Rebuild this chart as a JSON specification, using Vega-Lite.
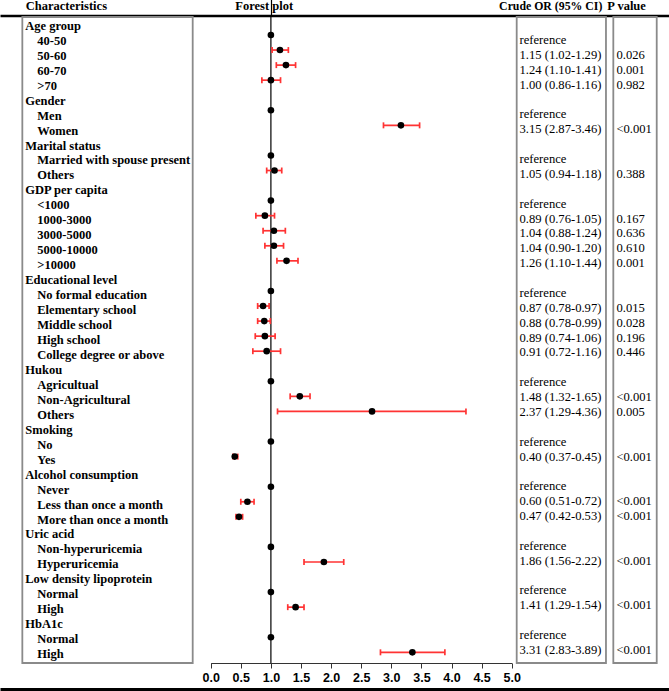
{
  "$schema": "https://vega.github.io/schema/vega-lite/v6.json",
  "width": 669,
  "height": 646,
  "autosize": "none",
  "padding": {"left": 0, "right": 0, "top": 17, "bottom": 28},
  "background": "white",
  "config": {"view": {"stroke": null}, "font": "Liberation Serif"},
  "data": {"values": [
    {"k": "r01", "t": "Age group", "lv": 0, "e": null, "lo": null, "hi": null, "ci": "", "p": ""},
    {"k": "r02", "t": "40-50", "lv": 1, "e": 1.0, "lo": null, "hi": null, "ci": "reference", "p": ""},
    {"k": "r03", "t": "50-60", "lv": 1, "e": 1.15, "lo": 1.02, "hi": 1.29, "ci": "1.15 (1.02-1.29)", "p": "0.026"},
    {"k": "r04", "t": "60-70", "lv": 1, "e": 1.25, "lo": 1.09, "hi": 1.41, "ci": "1.24 (1.10-1.41)", "p": "0.001"},
    {"k": "r05", "t": ">70", "lv": 1, "e": 1.0, "lo": 0.85, "hi": 1.16, "ci": "1.00 (0.86-1.16)", "p": "0.982"},
    {"k": "r06", "t": "Gender", "lv": 0, "e": null, "lo": null, "hi": null, "ci": "", "p": ""},
    {"k": "r07", "t": "Men", "lv": 1, "e": 1.0, "lo": null, "hi": null, "ci": "reference", "p": ""},
    {"k": "r08", "t": "Women", "lv": 1, "e": 3.16, "lo": 2.87, "hi": 3.47, "ci": "3.15 (2.87-3.46)", "p": "<0.001"},
    {"k": "r09", "t": "Marital status", "lv": 0, "e": null, "lo": null, "hi": null, "ci": "", "p": ""},
    {"k": "r10", "t": "Married with spouse present", "lv": 1, "e": 1.0, "lo": null, "hi": null, "ci": "reference", "p": ""},
    {"k": "r11", "t": "Others", "lv": 1, "e": 1.06, "lo": 0.93, "hi": 1.18, "ci": "1.05 (0.94-1.18)", "p": "0.388"},
    {"k": "r12", "t": "GDP per capita", "lv": 0, "e": null, "lo": null, "hi": null, "ci": "", "p": ""},
    {"k": "r13", "t": "<1000", "lv": 1, "e": 1.0, "lo": null, "hi": null, "ci": "reference", "p": ""},
    {"k": "r14", "t": "1000-3000", "lv": 1, "e": 0.9, "lo": 0.75, "hi": 1.06, "ci": "0.89 (0.76-1.05)", "p": "0.167"},
    {"k": "r15", "t": "3000-5000", "lv": 1, "e": 1.05, "lo": 0.87, "hi": 1.24, "ci": "1.04 (0.88-1.24)", "p": "0.636"},
    {"k": "r16", "t": "5000-10000", "lv": 1, "e": 1.05, "lo": 0.9, "hi": 1.21, "ci": "1.04 (0.90-1.20)", "p": "0.610"},
    {"k": "r17", "t": ">10000", "lv": 1, "e": 1.26, "lo": 1.1, "hi": 1.45, "ci": "1.26 (1.10-1.44)", "p": "0.001"},
    {"k": "r18", "t": "Educational level", "lv": 0, "e": null, "lo": null, "hi": null, "ci": "", "p": ""},
    {"k": "r19", "t": "No formal education", "lv": 1, "e": 1.0, "lo": null, "hi": null, "ci": "reference", "p": ""},
    {"k": "r20", "t": "Elementary school", "lv": 1, "e": 0.87, "lo": 0.78, "hi": 0.97, "ci": "0.87 (0.78-0.97)", "p": "0.015"},
    {"k": "r21", "t": "Middle school", "lv": 1, "e": 0.89, "lo": 0.78, "hi": 0.99, "ci": "0.88 (0.78-0.99)", "p": "0.028"},
    {"k": "r22", "t": "High school", "lv": 1, "e": 0.9, "lo": 0.74, "hi": 1.07, "ci": "0.89 (0.74-1.06)", "p": "0.196"},
    {"k": "r23", "t": "College degree or above", "lv": 1, "e": 0.93, "lo": 0.7, "hi": 1.16, "ci": "0.91 (0.72-1.16)", "p": "0.446"},
    {"k": "r24", "t": "Hukou", "lv": 0, "e": null, "lo": null, "hi": null, "ci": "", "p": ""},
    {"k": "r25", "t": "Agricultual", "lv": 1, "e": 1.0, "lo": null, "hi": null, "ci": "reference", "p": ""},
    {"k": "r26", "t": "Non-Agricultural", "lv": 1, "e": 1.48, "lo": 1.32, "hi": 1.65, "ci": "1.48 (1.32-1.65)", "p": "<0.001"},
    {"k": "r27", "t": "Others", "lv": 1, "e": 2.68, "lo": 1.11, "hi": 4.24, "ci": "2.37 (1.29-4.36)", "p": "0.005"},
    {"k": "r28", "t": "Smoking", "lv": 0, "e": null, "lo": null, "hi": null, "ci": "", "p": ""},
    {"k": "r29", "t": "No", "lv": 1, "e": 1.0, "lo": null, "hi": null, "ci": "reference", "p": ""},
    {"k": "r30", "t": "Yes", "lv": 1, "e": 0.4, "lo": 0.37, "hi": 0.45, "ci": "0.40 (0.37-0.45)", "p": "<0.001"},
    {"k": "r31", "t": "Alcohol consumption", "lv": 0, "e": null, "lo": null, "hi": null, "ci": "", "p": ""},
    {"k": "r32", "t": "Never", "lv": 1, "e": 1.0, "lo": null, "hi": null, "ci": "reference", "p": ""},
    {"k": "r33", "t": "Less than once a month", "lv": 1, "e": 0.61, "lo": 0.5, "hi": 0.72, "ci": "0.60 (0.51-0.72)", "p": "<0.001"},
    {"k": "r34", "t": "More than once a month", "lv": 1, "e": 0.47, "lo": 0.42, "hi": 0.53, "ci": "0.47 (0.42-0.53)", "p": "<0.001"},
    {"k": "r35", "t": "Uric acid", "lv": 0, "e": null, "lo": null, "hi": null, "ci": "", "p": ""},
    {"k": "r36", "t": "Non-hyperuricemia", "lv": 1, "e": 1.0, "lo": null, "hi": null, "ci": "reference", "p": ""},
    {"k": "r37", "t": "Hyperuricemia", "lv": 1, "e": 1.88, "lo": 1.55, "hi": 2.21, "ci": "1.86 (1.56-2.22)", "p": "<0.001"},
    {"k": "r38", "t": "Low density lipoprotein", "lv": 0, "e": null, "lo": null, "hi": null, "ci": "", "p": ""},
    {"k": "r39", "t": "Normal", "lv": 1, "e": 1.0, "lo": null, "hi": null, "ci": "reference", "p": ""},
    {"k": "r40", "t": "High", "lv": 1, "e": 1.41, "lo": 1.28, "hi": 1.55, "ci": "1.41 (1.29-1.54)", "p": "<0.001"},
    {"k": "r41", "t": "HbA1c", "lv": 0, "e": null, "lo": null, "hi": null, "ci": "", "p": ""},
    {"k": "r42", "t": "Normal", "lv": 1, "e": 1.0, "lo": null, "hi": null, "ci": "reference", "p": ""},
    {"k": "r43", "t": "High", "lv": 1, "e": 3.35, "lo": 2.82, "hi": 3.89, "ci": "3.31 (2.83-3.89)", "p": "<0.001"}
  ]},
  "layer": [
    {
      "layer": [
        {
          "data": {"values": [{}]},
          "mark": {"type": "rect", "fillOpacity": 0, "stroke": "#8a8a8a", "strokeWidth": 1.8},
          "encoding": {
            "x": {"datum": -3.129, "type": "quantitative", "scale": {"domain": [0, 5], "range": [210.7, 511.7], "nice": false, "zero": false}, "axis": null},
            "x2": {"datum": -0.299}
          }
        },
        {
          "data": {"values": [{}]},
          "mark": {"type": "rect", "fillOpacity": 0, "stroke": "#8a8a8a", "strokeWidth": 1.8},
          "encoding": {
            "x": {"datum": 5.083, "type": "quantitative", "axis": null},
            "x2": {"datum": 6.566}
          }
        },
        {
          "data": {"values": [{}]},
          "mark": {"type": "rect", "fillOpacity": 0, "stroke": "#8a8a8a", "strokeWidth": 1.8},
          "encoding": {
            "x": {"datum": 6.688, "type": "quantitative", "axis": null},
            "x2": {"datum": 7.409}
          }
        },
        {
          "data": {"values": [{}]},
          "mark": {"type": "rule", "color": "black", "strokeWidth": 1.2},
          "encoding": {"x": {"datum": 1, "type": "quantitative", "axis": null}}
        },
        {
          "mark": {"type": "text", "align": "left", "baseline": "middle", "font": "Liberation Serif", "fontWeight": "bold", "fontSize": 12.5, "color": "black"},
          "encoding": {
            "x": {"datum": -3.08, "type": "quantitative", "axis": null},
            "xOffset": {"field": "lv", "type": "quantitative", "scale": {"domain": [0, 1], "range": [0, 12]}},
            "y": {"field": "k", "type": "nominal", "sort": null, "scale": {"type": "point", "padding": 0.592, "align": 0.5}, "axis": null},
            "text": {"field": "t"}
          }
        },
        {
          "mark": {"type": "text", "align": "left", "baseline": "middle", "font": "Liberation Serif", "fontSize": 12.6, "color": "black"},
          "encoding": {
            "x": {"datum": 5.13, "type": "quantitative", "axis": null},
            "y": {"field": "k", "type": "nominal", "sort": null, "scale": {"type": "point", "padding": 0.714, "align": 0.388}, "axis": null},
            "text": {"field": "ci"}
          }
        },
        {
          "mark": {"type": "text", "align": "left", "baseline": "middle", "font": "Liberation Serif", "fontSize": 12.6, "color": "black"},
          "encoding": {
            "x": {"datum": 6.74, "type": "quantitative", "axis": null},
            "y": {"field": "k", "type": "nominal", "sort": null, "scale": {"type": "point", "padding": 0.714, "align": 0.388}, "axis": null},
            "text": {"field": "p"}
          }
        },
        {
          "layer": [
            {
              "mark": {"type": "point", "opacity": 0},
              "encoding": {
                "x": {"datum": 1, "type": "quantitative", "axis": null},
                "y": {"field": "k", "type": "nominal", "sort": null, "scale": {"type": "point", "padding": 0.452, "align": 0.216}, "axis": null}
              }
            },
            {
              "mark": {"type": "rule", "color": "#ff3333", "strokeWidth": 1.7},
              "encoding": {
                "x": {"field": "lo", "type": "quantitative", "axis": null},
                "x2": {"field": "hi"},
                "y": {"field": "k", "type": "nominal", "sort": null, "axis": null}
              }
            },
            {
              "mark": {"type": "tick", "orient": "vertical", "size": 6, "thickness": 1.7, "color": "#ff3333", "opacity": 1},
              "encoding": {
                "x": {"field": "lo", "type": "quantitative", "axis": null},
                "y": {"field": "k", "type": "nominal", "sort": null, "axis": null}
              }
            },
            {
              "mark": {"type": "tick", "orient": "vertical", "size": 6, "thickness": 1.7, "color": "#ff3333", "opacity": 1},
              "encoding": {
                "x": {"field": "hi", "type": "quantitative", "axis": null},
                "y": {"field": "k", "type": "nominal", "sort": null, "axis": null}
              }
            },
            {
              "mark": {"type": "circle", "size": 44, "color": "black", "opacity": 1},
              "encoding": {
                "x": {"field": "e", "type": "quantitative", "axis": null},
                "y": {"field": "k", "type": "nominal", "sort": null, "axis": null}
              }
            }
          ]
        }
      ],
      "resolve": {"scale": {"y": "independent"}}
    },
    {
      "data": {"values": [{}]},
      "mark": {"type": "rule", "opacity": 0},
      "encoding": {
        "x": {"datum": 0, "type": "quantitative", "scale": {"domain": [0, 5], "range": [210.7, 511.7], "nice": false, "zero": false},
          "axis": {"orient": "bottom", "offset": 0, "values": [0, 0.5, 1, 1.5, 2, 2.5, 3, 3.5, 4, 4.5, 5], "format": ".1f", "labelFont": "Liberation Sans", "labelFontWeight": "bold", "labelFontSize": 12.5, "labelColor": "black", "labelPadding": 3, "labelFlush": false, "labelOverlap": false, "labelBound": false, "domain": true, "domainColor": "#333333", "domainWidth": 1, "ticks": true, "tickColor": "#333333", "tickSize": 5, "tickWidth": 1, "grid": false, "title": null}}
      }
    },
    {
      "data": {"values": [{}]},
      "mark": {"type": "rule", "opacity": 0},
      "encoding": {
        "x": {"datum": 0, "type": "quantitative", "scale": {"domain": [-3.5, 7.613], "nice": false, "zero": false},
          "axis": {"orient": "top", "offset": 1.5, "values": [-3.08, 0.88, 1, 5.64, 6.9],
            "labelExpr": "datum.value < -2 ? 'Characteristics' : datum.value < 0.95 ? 'Forest plot' : datum.value < 2 ? '' : datum.value < 6 ? 'Crude OR (95% CI)' : 'P value'",
            "labelAlign": {"condition": {"test": "datum.value < -2", "value": "left"}, "value": "center"},
            "labelFontSize": {"condition": {"test": "datum.value > 5 && datum.value < 6", "value": 11.8}, "value": 12.5},
            "labelFont": "Liberation Serif", "labelFontWeight": "bold", "labelColor": "black",
            "labelBaseline": "alphabetic", "labelPadding": -9.5, "labelOverlap": false, "labelFlush": false, "labelBound": false,
            "domain": true, "domainColor": "black", "domainWidth": 2.5, "domainCap": "butt",
            "ticks": true, "tickSize": 16, "tickWidth": 1.2,
            "tickColor": {"condition": {"test": "datum.value == 1", "value": "black"}, "value": "transparent"},
            "grid": false, "title": null}}
      }
    },
    {
      "data": {"values": [{}]},
      "mark": {"type": "rule", "opacity": 0},
      "encoding": {
        "x": {"datum": 0, "type": "quantitative", "scale": {"domain": [0, 1], "nice": false, "zero": false},
          "axis": {"orient": "bottom", "offset": 26, "domain": true, "domainColor": "black", "domainWidth": 3, "domainCap": "butt", "ticks": false, "labels": false, "grid": false, "title": null}}
      }
    }
  ],
  "resolve": {"scale": {"x": "independent"}, "axis": {"x": "independent"}}
}
